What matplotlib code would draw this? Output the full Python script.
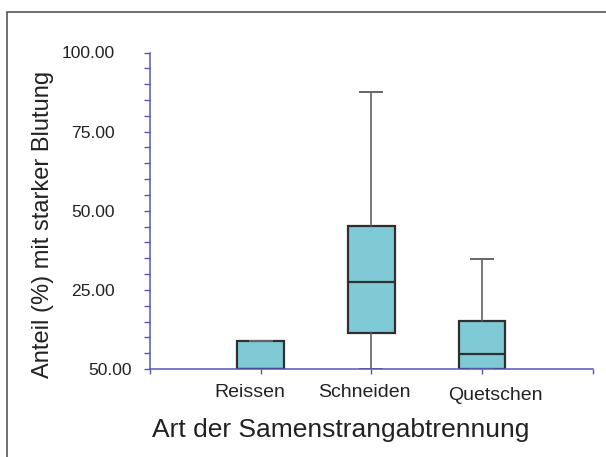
#!/usr/bin/env python3

import matplotlib
matplotlib.use("Agg")
import matplotlib.pyplot as plt
import matplotlib.transforms as mtransforms
from matplotlib.patches import Rectangle
from matplotlib.ticker import MultipleLocator

# box plot summary (percent)
categories = ["Reissen", "Schneiden", "Quetschen"]
whisker_low = [0.0, 0.0, 0.0]
q1 = [0.0, 11.3, 0.0]
median = [0.0, 27.5, 4.6]
q3 = [8.9, 45.2, 15.1]
whisker_high = [8.9, 87.4, 34.7]

ytick_values = [0, 25, 50, 75, 100]
ytick_labels = ["50.00", "25.00", "50.00", "75.00", "100.00"]

plt.rcParams["font.family"] = ["Liberation Sans", "DejaVu Sans"]

FILL = "#80cad5"
EDGE = "#2f2f2f"
AXIS = "#5656b8"
TEXT = "#222222"

fig = plt.figure(figsize=(6.06, 4.57), dpi=100)
ax = fig.add_axes([150 / 606, 1 - 369 / 457, 442.7 / 606, 316.5 / 457])

stats = []
for i, name in enumerate(categories):
    stats.append({
        "label": name,
        "whislo": whisker_low[i],
        "q1": q1[i],
        "med": median[i],
        "q3": q3[i],
        "whishi": whisker_high[i],
        "fliers": [],
    })

ax.bxp(
    stats,
    positions=[1, 2, 3],
    widths=0.42,
    patch_artist=True,
    showfliers=False,
    boxprops=dict(facecolor=FILL, edgecolor=EDGE, linewidth=1.6),
    medianprops=dict(color=EDGE, linewidth=1.6),
    whiskerprops=dict(color="#555555", linewidth=1.1),
    capprops=dict(color="#666666", linewidth=1.4),
    capwidths=0.2,
    zorder=2,
)

ax.set_xlim(0, 4)
ax.set_ylim(0, 100)

# axes styling: only left and bottom, blue-ish
for side in ["top", "right"]:
    ax.spines[side].set_visible(False)
for side in ["left", "bottom"]:
    ax.spines[side].set_color(AXIS)
    ax.spines[side].set_linewidth(1.1)
    ax.spines[side].set_zorder(3)

ax.set_yticks(ytick_values)
ax.set_yticklabels(ytick_labels)
ax.yaxis.set_minor_locator(MultipleLocator(5))
ax.tick_params(axis="y", which="both", direction="out", length=4.3, width=1,
               color=AXIS, labelsize=12.6, labelcolor=TEXT, pad=21)

ax.set_xticks([0, 1, 2, 3, 4])
ax.set_xticklabels([""] + categories + [""])
ax.tick_params(axis="x", direction="out", length=3.6, width=1, color=AXIS,
               labelsize=14, labelcolor=TEXT, pad=7)

# small per-label offsets as in the original
dpi_trans = fig.dpi_scale_trans
x_offsets = [(0, 0), (-11, 0), (-7, 0), (13, -3), (0, 0)]
for lab, (dx, dy) in zip(ax.get_xticklabels(), x_offsets):
    lab.set_transform(lab.get_transform()
                      + mtransforms.ScaledTranslation(dx / 100, dy / 100, dpi_trans))
ylabs = ax.get_yticklabels()
ylabs[0].set_transform(ylabs[0].get_transform()
                       + mtransforms.ScaledTranslation(17 / 100, 0, dpi_trans))

fig.text(341 / 606, 1 - 430 / 457, "Art der Samenstrangabtrennung",
         fontsize=19, color=TEXT, ha="center", va="center")
fig.text(43 / 606, 1 - 224 / 457, "Anteil (%) mit starker Blutung",
         fontsize=17, color=TEXT, ha="center", va="center", rotation=90)

# outer frame (cut off at right and bottom in the original)
fig.patches.append(Rectangle((6.7 / 606, -0.1), 1.2, 1.1 - 11.7 / 457,
                             transform=fig.transFigure, fill=False,
                             edgecolor="#555555", linewidth=1.2))

fig.savefig("out.png", dpi=100)
